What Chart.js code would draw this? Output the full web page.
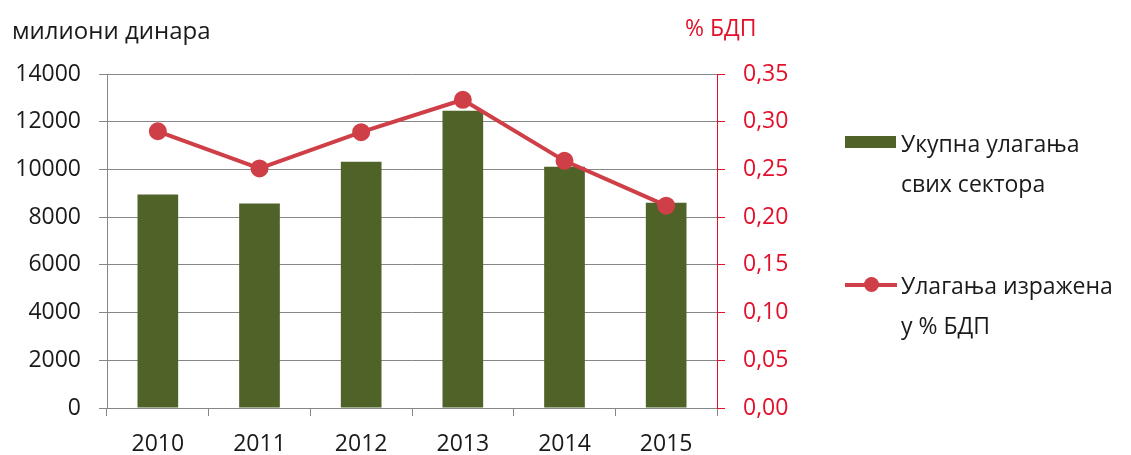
<!DOCTYPE html>
<html>
<head>
<meta charset="utf-8">
<script src="https://cdn.jsdelivr.net/npm/chart.js@4"></script>
<style>
body{margin:0;background:#fff;font-family:"Open Sans",sans-serif;}
#wrap{position:relative;width:1131px;height:455px;}
.lbl{position:absolute;font-size:23px;color:#1a1a1a;white-space:nowrap;}
.red{color:#E3102B;}
</style>
</head>
<body>
<div id="wrap">
<canvas id="chart" width="1131" height="455"></canvas>
<div class="lbl" style="left:12px;top:13px;font-size:24px;">милиони динара</div>
<div class="lbl red" style="left:685px;top:11px;">% БДП</div>
<div style="position:absolute;left:845px;top:136px;width:51px;height:12px;background:#4F6228;"></div>
<div class="lbl" style="left:901px;top:123px;line-height:40px;">Укупна улагања<br>свих сектора</div>
<div style="position:absolute;left:845px;top:283px;width:52px;height:4px;background:#CF3F47;"></div>
<div style="position:absolute;left:864px;top:277px;width:15px;height:15px;border-radius:50%;background:#CF3F47;"></div>
<div class="lbl" style="left:901px;top:265px;line-height:40px;">Улагања изражена<br>у % БДП</div>
</div>
<script>
const years=["2010","2011","2012","2013","2014","2015"];
const ulaganja=[8950,8570,10320,12460,10110,8600];
const procenatBDP=[0.290,0.251,0.289,0.323,0.259,0.212];

const green="#4F6228";
const red="#CF3F47";
const axisRed="#E3102B";
const gray="#868686";
const tickFont={family:"Open Sans",size:23};

new Chart(document.getElementById("chart"),{
data:{
labels:years,
datasets:[{
type:'line',
label:"Улагања изражена у % БДП",
data:procenatBDP,
yAxisID:'y1',
borderColor:red,
backgroundColor:red,
borderWidth:4,
pointRadius:7,
pointHoverRadius:7,
order:0
},{
type:'bar',
label:"Укупна улагања свих сектора",
data:ulaganja,
yAxisID:'y',
backgroundColor:green,
barPercentage:0.4,
categoryPercentage:1,
order:1
}]
},
options:{
responsive:false,
animation:false,
layout:{padding:{top:74,right:311,left:0,bottom:0}},
plugins:{legend:{display:false},tooltip:{enabled:false}},
scales:{
x:{
offset:true,
grid:{offset:true,drawOnChartArea:false,drawTicks:true,tickLength:8,color:gray},
border:{color:gray},
ticks:{color:"#1a1a1a",font:tickFont,padding:15},
afterFit:s=>{s.height=47;}
},
y:{
position:'left',
min:0,max:14000,
ticks:{stepSize:2000,color:"#1a1a1a",font:tickFont,padding:18,callback:v=>String(v)},
grid:{color:gray,tickLength:8},
border:{color:gray},
afterFit:s=>{s.width=107;}
},
y1:{
position:'right',
min:0,max:0.35,
ticks:{stepSize:0.05,color:axisRed,font:tickFont,padding:18,
callback:v=>v.toFixed(2).replace('.',',')},
grid:{drawOnChartArea:false,color:axisRed,tickLength:8},
border:{color:axisRed},
afterFit:s=>{s.width=103;}
}
}
}
});
</script>
</body>
</html>
